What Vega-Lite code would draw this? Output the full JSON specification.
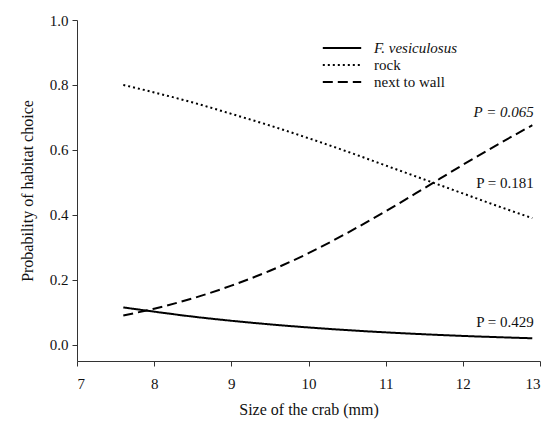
{
  "$schema": "https://vega.github.io/schema/vega-lite/v6.json",
  "autosize": {"type": "none"},
  "width": 463,
  "height": 341,
  "padding": {"left": 77, "top": 20, "right": 18, "bottom": 63},
  "background": "white",
  "config": {
    "view": {"stroke": null},
    "font": "Liberation Serif",
    "text": {"font": "Liberation Serif"},
    "legend": {"labelFont": "Liberation Serif", "titleFont": "Liberation Serif"},
    "axis": {
      "grid": false,
      "domainColor": "#333",
      "tickColor": "#333",
      "tickSize": 5,
      "labelColor": "#111",
      "titleColor": "#111",
      "labelFont": "Liberation Serif",
      "titleFont": "Liberation Serif",
      "labelFontSize": 15,
      "titleFontSize": 16,
      "titleFontWeight": "normal"
    }
  },
  "datasets": {
    "curves": [
      {"size": 7.6, "p": 0.115, "habitat": "F. vesiculosus"},
      {"size": 8.0, "p": 0.102, "habitat": "F. vesiculosus"},
      {"size": 8.5, "p": 0.0867, "habitat": "F. vesiculosus"},
      {"size": 9.0, "p": 0.0739, "habitat": "F. vesiculosus"},
      {"size": 9.5, "p": 0.0628, "habitat": "F. vesiculosus"},
      {"size": 10.0, "p": 0.0533, "habitat": "F. vesiculosus"},
      {"size": 10.5, "p": 0.0451, "habitat": "F. vesiculosus"},
      {"size": 11.0, "p": 0.0382, "habitat": "F. vesiculosus"},
      {"size": 11.5, "p": 0.0323, "habitat": "F. vesiculosus"},
      {"size": 12.0, "p": 0.0272, "habitat": "F. vesiculosus"},
      {"size": 12.5, "p": 0.023, "habitat": "F. vesiculosus"},
      {"size": 12.9, "p": 0.02, "habitat": "F. vesiculosus"},
      {"size": 7.6, "p": 0.8, "habitat": "rock"},
      {"size": 8.0, "p": 0.777, "habitat": "rock"},
      {"size": 8.5, "p": 0.746, "habitat": "rock"},
      {"size": 9.0, "p": 0.711, "habitat": "rock"},
      {"size": 9.5, "p": 0.675, "habitat": "rock"},
      {"size": 10.0, "p": 0.636, "habitat": "rock"},
      {"size": 10.5, "p": 0.595, "habitat": "rock"},
      {"size": 11.0, "p": 0.552, "habitat": "rock"},
      {"size": 11.5, "p": 0.509, "habitat": "rock"},
      {"size": 12.0, "p": 0.466, "habitat": "rock"},
      {"size": 12.5, "p": 0.423, "habitat": "rock"},
      {"size": 12.9, "p": 0.39, "habitat": "rock"},
      {"size": 7.6, "p": 0.0903, "habitat": "next to wall"},
      {"size": 8.0, "p": 0.111, "habitat": "next to wall"},
      {"size": 8.5, "p": 0.143, "habitat": "next to wall"},
      {"size": 9.0, "p": 0.182, "habitat": "next to wall"},
      {"size": 9.5, "p": 0.228, "habitat": "next to wall"},
      {"size": 10.0, "p": 0.282, "habitat": "next to wall"},
      {"size": 10.5, "p": 0.344, "habitat": "next to wall"},
      {"size": 11.0, "p": 0.411, "habitat": "next to wall"},
      {"size": 11.5, "p": 0.482, "habitat": "next to wall"},
      {"size": 12.0, "p": 0.554, "habitat": "next to wall"},
      {"size": 12.5, "p": 0.623, "habitat": "next to wall"},
      {"size": 12.9, "p": 0.676, "habitat": "next to wall"}
    ],
    "labels": [
      {"size": 12.92, "p": 0.716, "label": "P = 0.065", "kind": "italic"},
      {"size": 12.92, "p": 0.498, "label": "P = 0.181", "kind": "normal"},
      {"size": 12.92, "p": 0.071, "label": "P = 0.429", "kind": "normal"}
    ]
  },
  "layer": [
    {
      "data": {"name": "curves"},
      "mark": {"type": "line", "color": "black", "strokeWidth": 2, "interpolate": "monotone"},
      "encoding": {
        "x": {
          "field": "size", "type": "quantitative",
          "scale": {"domain": [7, 13], "nice": false, "zero": false},
          "axis": {"values": [7, 8, 9, 10, 11, 12, 13], "format": "d", "title": "Size of the crab (mm)", "labelPadding": 10, "titlePadding": 10}
        },
        "y": {
          "field": "p", "type": "quantitative",
          "scale": {"domain": [-0.05, 1.0], "nice": false, "zero": false},
          "axis": {"values": [0, 0.2, 0.4, 0.6, 0.8, 1.0], "format": ".1f", "title": "Probability of habitat choice", "labelPadding": 4, "titlePadding": 14}
        },
        "strokeDash": {
          "field": "habitat", "type": "nominal",
          "scale": {"domain": ["F. vesiculosus", "rock", "next to wall"], "range": [[1, 0], [2, 3], [10, 5]]},
          "legend": {
            "title": null,
            "orient": "none",
            "legendX": 256,
            "legendY": 19,
            "padding": 0,
            "symbolType": "M-2.4,0H2.4",
            "symbolSize": 256,
            "symbolStrokeWidth": 2,
            "symbolStrokeColor": "black",
            "symbolFillColor": "transparent",
            "labelFont": "Liberation Serif",
            "labelFontSize": 15,
            "labelColor": "#111",
            "labelOffset": 23,
            "rowPadding": -0.5,
            "labelFontStyle": {"expr": "datum.label == 'F. vesiculosus' ? 'italic' : 'normal'"}
          }
        }
      }
    },
    {
      "data": {"name": "labels"},
      "transform": [{"filter": "datum.kind == 'italic'"}],
      "mark": {"type": "text", "align": "right", "baseline": "middle", "fontSize": 15, "fontStyle": "italic", "font": "Liberation Serif", "color": "#111"},
      "encoding": {
        "x": {"field": "size", "type": "quantitative"},
        "y": {"field": "p", "type": "quantitative"},
        "text": {"field": "label"}
      }
    },
    {
      "data": {"name": "labels"},
      "transform": [{"filter": "datum.kind == 'normal'"}],
      "mark": {"type": "text", "align": "right", "baseline": "middle", "fontSize": 15, "font": "Liberation Serif", "color": "#111"},
      "encoding": {
        "x": {"field": "size", "type": "quantitative"},
        "y": {"field": "p", "type": "quantitative"},
        "text": {"field": "label"}
      }
    }
  ]
}
